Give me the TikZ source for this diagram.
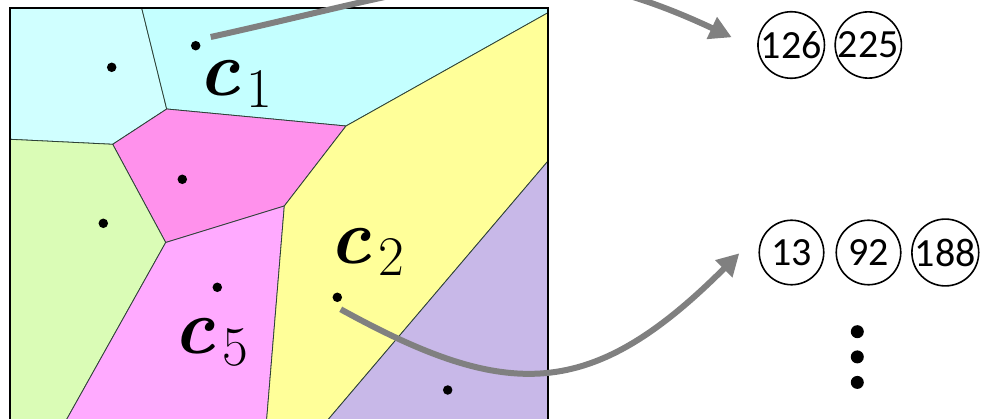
\documentclass[tikz,border=0pt]{standalone}
\usepackage{fontspec}
\newfontfamily\numfont{Carlito}
\usetikzlibrary{arrows.meta}
\definecolor{cyanA}{RGB}{208,255,255}
\definecolor{cyanB}{RGB}{196,255,255}
\definecolor{magA}{RGB}{255,145,236}
\definecolor{pinkB}{RGB}{255,170,255}
\definecolor{greenC}{RGB}{218,252,182}
\definecolor{yellowD}{RGB}{255,255,153}
\definecolor{purpleE}{RGB}{200,184,232}
\definecolor{edgeC}{RGB}{45,65,55}
\definecolor{arrowG}{RGB}{128,128,128}
\newcommand{\cvar}[1]{{\fontsize{78}{78}\selectfont\bfseries\itshape c}\hspace{7pt}\raisebox{-12pt}{\fontsize{56}{56}\selectfont #1}}
\tikzset{
  cell/.style={draw=edgeC, line width=0.8pt, line join=round},
  sitedot/.style={circle, fill=black, inner sep=0pt, minimum size=9.5pt},
  numc/.style={circle, draw=black, line width=1.6pt, minimum size=64.5pt, inner sep=0pt, font=\numfont\fontsize{40}{40}\selectfont},
  clabel/.style={anchor=base west, inner sep=0pt},
  conn/.style={draw=arrowG, line width=6pt, -{Triangle[length=22pt,width=23pt]}},
  ell/.style={circle, fill=black, inner sep=0pt, minimum size=13pt}
}
\begin{document}
\begin{tikzpicture}[x=1pt,y=-1pt]
\useasboundingbox (0,0) rectangle (982,419);
\begin{scope}
\clip (0,0) rectangle (982,419);
% cells
\coordinate (TL) at (10,8);
\coordinate (T1) at (141.7,8);
\coordinate (A) at (166.7,109);
\coordinate (B) at (112.7,144.3);
\coordinate (L1) at (10,139.3);
\coordinate (C) at (346,126);
\coordinate (TR) at (548,8);
\coordinate (TRy) at (548,12.7);
\coordinate (D) at (165.7,242.5);
\coordinate (E) at (284.3,206);
\coordinate (BD) at (63.5,425);
\coordinate (BE) at (266.2,425);
\coordinate (R2) at (548,161);
\coordinate (BP) at (323.5,425);
\coordinate (BL) at (10,425);
\coordinate (BR) at (548,425);
\path[cell, fill=cyanA] (TL) -- (T1) -- (A) -- (B) -- (L1) -- cycle;
\path[cell, fill=cyanB] (T1) -- (TR) -- (TRy) -- (C) -- (A) -- cycle;
\path[cell, fill=magA] (A) -- (C) -- (E) -- (D) -- (B) -- cycle;
\path[cell, fill=greenC] (L1) -- (B) -- (D) -- (BD) -- (BL) -- cycle;
\path[cell, fill=pinkB] (D) -- (E) -- (BE) -- (BD) -- cycle;
\path[cell, fill=yellowD] (C) -- (TRy) -- (R2) -- (BP) -- (BE) -- (E) -- cycle;
\path[cell, fill=purpleE] (R2) -- (BR) -- (BP) -- cycle;
% outer box
\draw[line width=1.5pt, black] (BL) -- (TL) -- (TR) -- (BR);
% sites
\node[sitedot] (s1) at (111.7,67.3) {};
\node[sitedot] (s2) at (195.7,45.7) {};
\node[sitedot] (s3) at (182.3,179.3) {};
\node[sitedot] (s4) at (103.3,223.3) {};
\node[sitedot] (s5) at (217.3,287.3) {};
\node[sitedot] (s6) at (337.3,297.3) {};
\node[sitedot] (s7) at (447.7,390) {};
% labels
\node[clabel] (lc1) at (198,95.5) {\cvar{1}};
\node[clabel] (lc2) at (329.5,263.5) {\cvar{2}};
\node[clabel] (lc5) at (173.5,353.5) {\cvar{5}};
% lists
\node[numc] (n126) at (791.2,45) {126};
\node[numc] (n225) at (868.3,45) {225};
\node[numc] (n13) at (791.5,252.5) {13};
\node[numc] (n92) at (868.5,252.5) {92};
\node[numc] (n188) at (945.3,252.5) {188};
\node[ell] (e1) at (857.3,331.7) {};
\node[ell] (e2) at (857.3,356.9) {};
\node[ell] (e3) at (857.3,382.4) {};
% connectors
\coordinate (a1s) at (210.7,37);
\coordinate (a1e) at (731.7,37.3);
\coordinate (a2s) at (340.7,309.3);
\coordinate (a2e) at (739.3,253.3);
\draw[conn] (a1s) .. controls (454.8,-17.1) and (532.3,-56) .. (a1e);
\draw[conn] (a2s) .. controls (507.1,400.9) and (590.8,401.8) .. (a2e);
\end{scope}
\end{tikzpicture}
\end{document}
